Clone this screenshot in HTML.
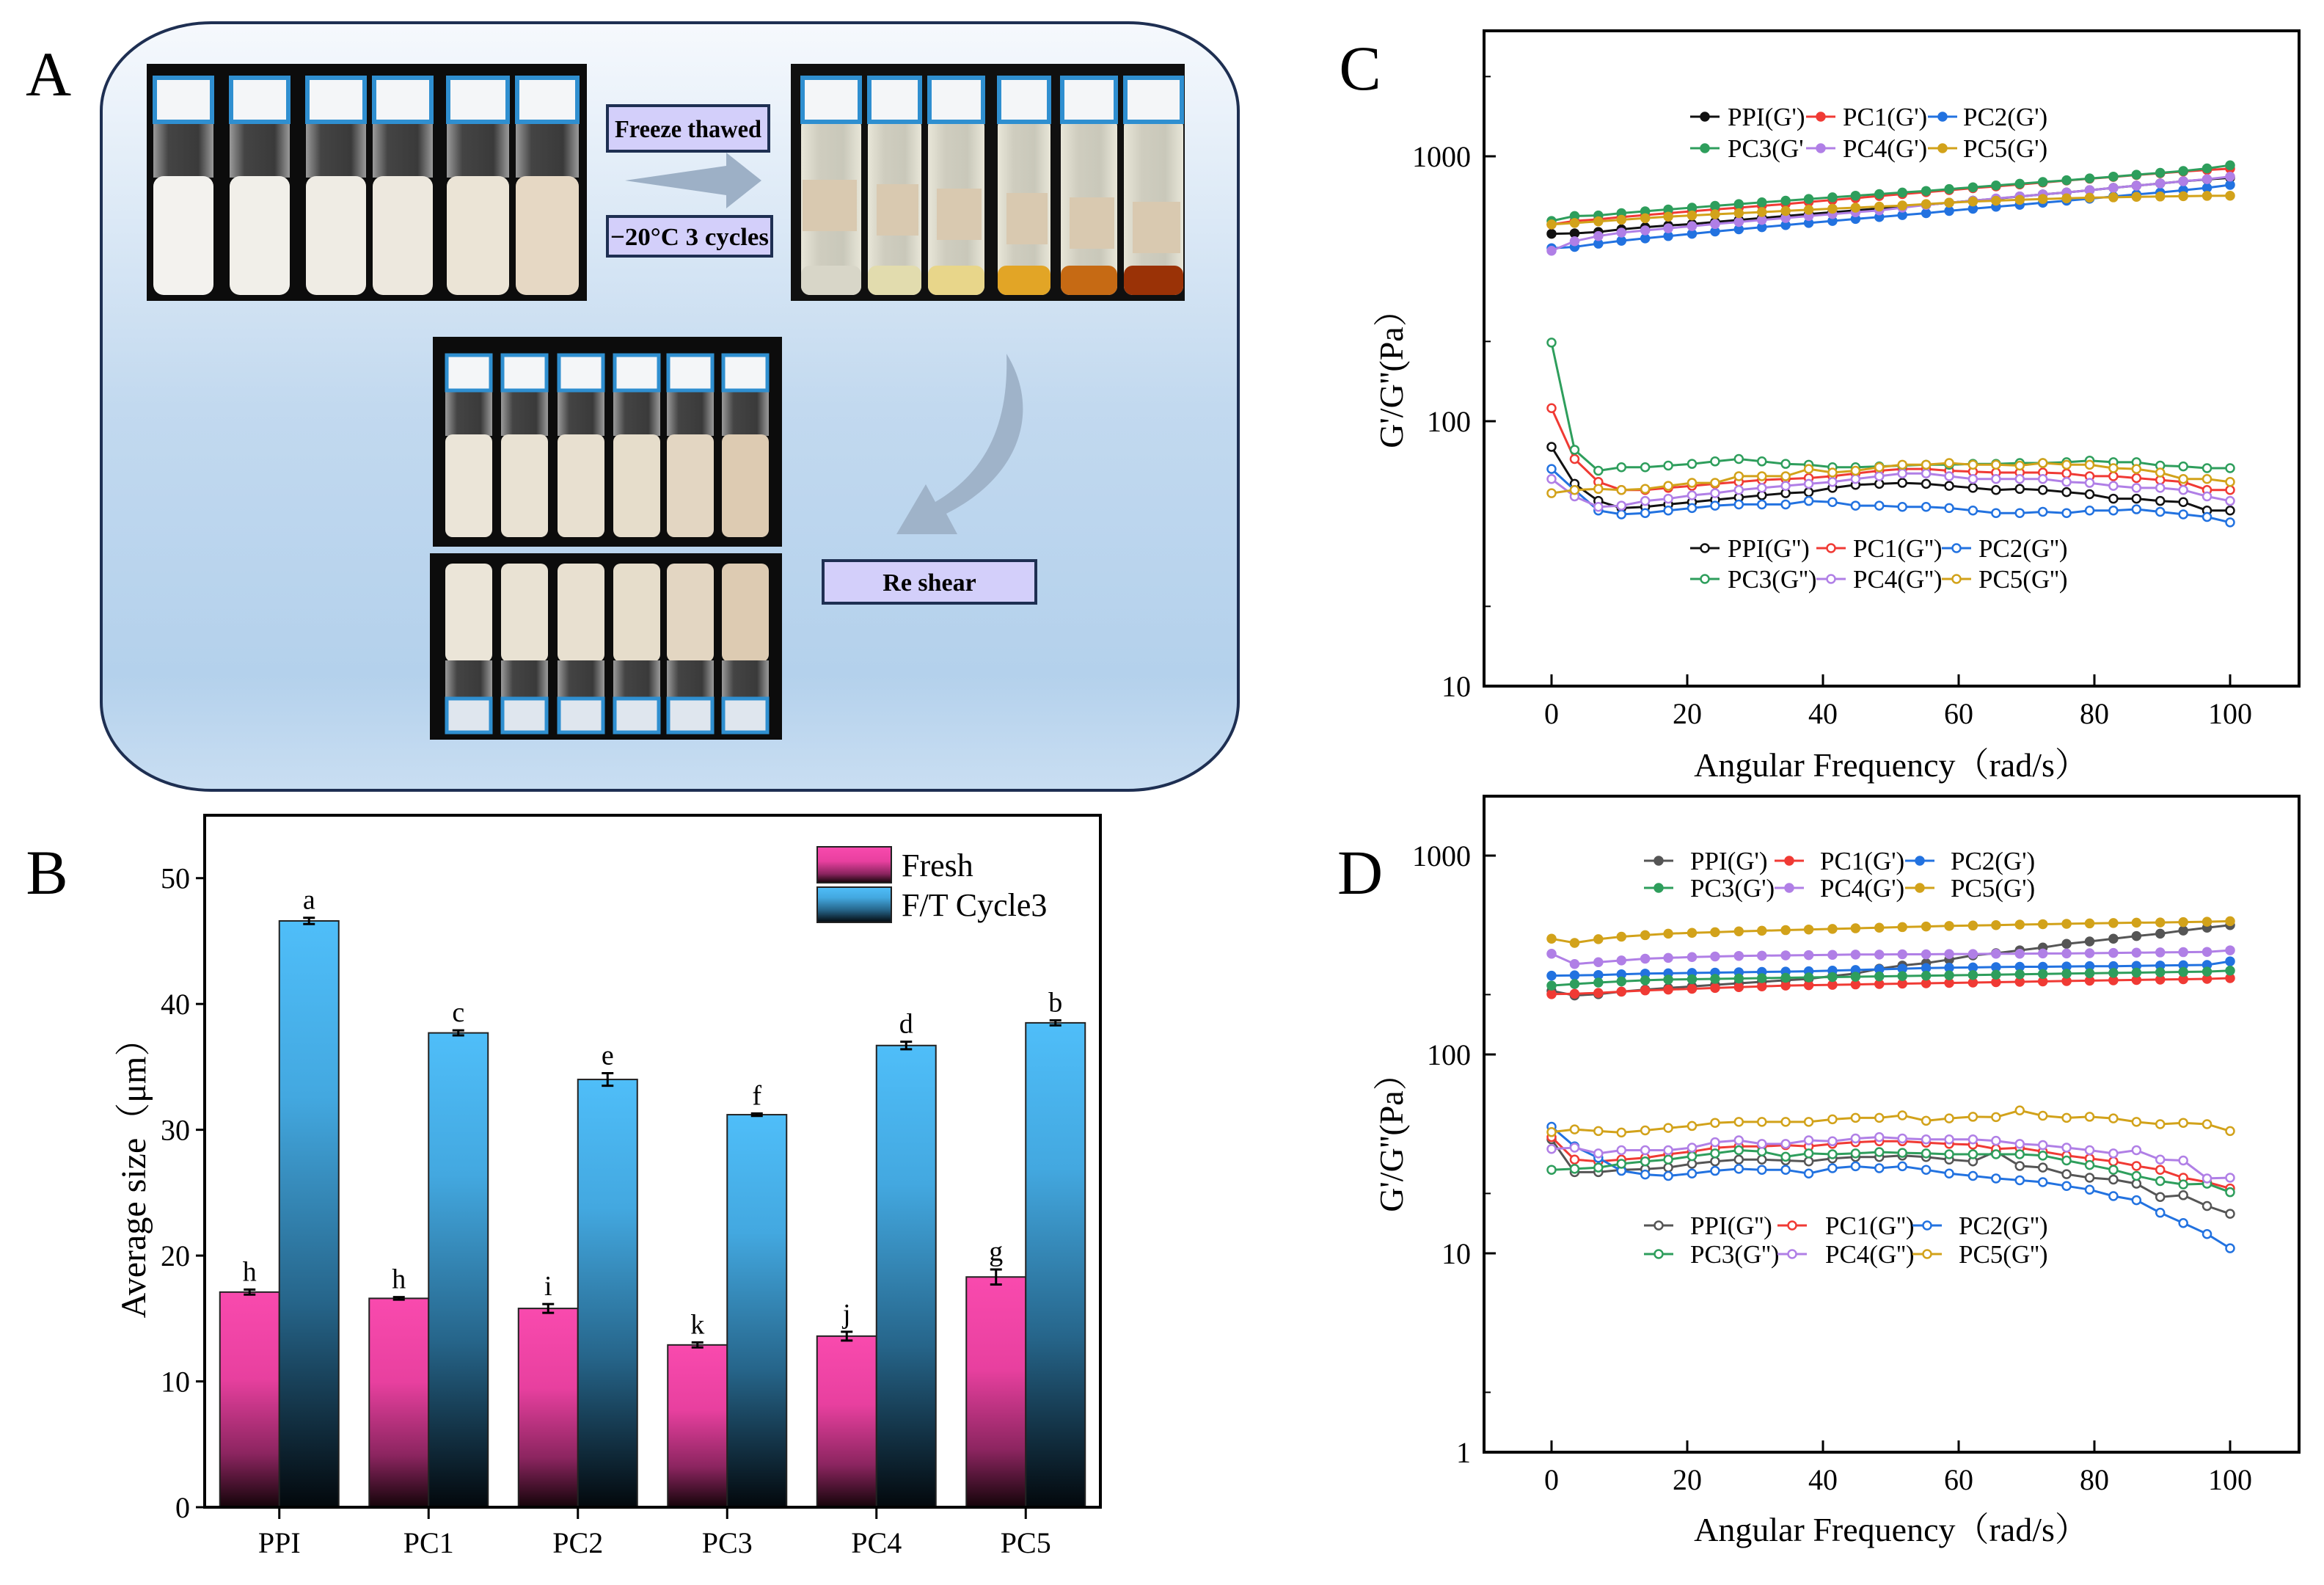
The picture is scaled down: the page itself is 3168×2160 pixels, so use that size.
<!DOCTYPE html>
<html><head><meta charset="utf-8">
<style>
html,body{margin:0;padding:0;background:#fff;}
svg{display:block;}
text{font-family:"Liberation Serif","Noto Serif CJK SC",serif;}
</style></head>
<body>
<svg id="fig" width="3168" height="2160" viewBox="0 0 3168 2160" xmlns="http://www.w3.org/2000/svg">
<defs>
<linearGradient id="panelGrad" x1="0" y1="0" x2="0" y2="1">
<stop offset="0" stop-color="#f6f9fd"/><stop offset="0.5" stop-color="#c2d9ef"/><stop offset="0.85" stop-color="#b4d1ec"/><stop offset="1" stop-color="#c9def2"/>
</linearGradient>
<linearGradient id="freshGrad" x1="0" y1="0" x2="0" y2="1">
<stop offset="0" stop-color="#f94aae"/><stop offset="0.4" stop-color="#e8409f"/><stop offset="0.75" stop-color="#8c2560"/><stop offset="1" stop-color="#140409"/>
</linearGradient>
<linearGradient id="ftGrad" x1="0" y1="0" x2="0" y2="1">
<stop offset="0" stop-color="#4fbef9"/><stop offset="0.3" stop-color="#43a8e0"/><stop offset="0.65" stop-color="#26658a"/><stop offset="1" stop-color="#03080c"/>
</linearGradient>
<linearGradient id="milk" x1="0" y1="0" x2="1" y2="0">
<stop offset="0" stop-color="#d9d5cc"/><stop offset="0.3" stop-color="#f4f1ea"/><stop offset="0.8" stop-color="#eeeae2"/><stop offset="1" stop-color="#c9c4ba"/>
</linearGradient>
<linearGradient id="glass" x1="0" y1="0" x2="1" y2="0">
<stop offset="0" stop-color="#9a9a9a"/><stop offset="0.25" stop-color="#444"/><stop offset="0.75" stop-color="#3a3a3a"/><stop offset="1" stop-color="#9a9a9a"/>
</linearGradient>
<linearGradient id="clearGlass" x1="0" y1="0" x2="1" y2="0">
<stop offset="0" stop-color="#e8e6d8"/><stop offset="0.3" stop-color="#cfcdbf"/><stop offset="0.7" stop-color="#c9c8ba"/><stop offset="1" stop-color="#e8e6d8"/>
</linearGradient>
</defs>

<!-- Panel A -->
<g>
<rect x="138" y="31" width="1550" height="1046" rx="150" ry="120" fill="url(#panelGrad)" stroke="#1e2f52" stroke-width="4"/>
<text x="66" y="130" font-size="86" text-anchor="middle">A</text>

<g id="photo1"><rect x="200" y="87" width="600" height="323" fill="#0c0c0c"/></g>
<g id="photo2"><rect x="1078" y="87" width="537" height="323" fill="#101010"/></g>
<g id="photo3"><rect x="590" y="459" width="476" height="286" fill="#0c0c0c"/></g>
<g id="photo4"><rect x="586" y="754" width="480" height="254" fill="#0c0c0c"/></g>

<polygon points="852,246 990,226 990,208 1038,246 990,284 990,266" fill="#9db0c6"/>
<path d="M1372,482 C1420,560 1390,650 1290,700 L1305,728 L1222,728 L1262,660 L1275,684 C1350,640 1375,570 1372,482 Z" fill="#9fb3c9"/>

<g>
<rect x="828" y="144" width="220" height="62" fill="#d3cffa" stroke="#1e2f52" stroke-width="4"/>
<text x="938" y="187" font-size="34" font-weight="bold" text-anchor="middle" textLength="200" lengthAdjust="spacingAndGlyphs">Freeze thawed</text>
</g>
<g>
<rect x="828" y="295" width="224" height="54" fill="#d3cffa" stroke="#1e2f52" stroke-width="4"/>
<text x="940" y="334" font-size="34" font-weight="bold" text-anchor="middle" textLength="216" lengthAdjust="spacingAndGlyphs">−20°C  3 cycles</text>
</g>
<g>
<rect x="1122" y="764" width="290" height="58" fill="#d3cffa" stroke="#1e2f52" stroke-width="4"/>
<text x="1267" y="805" font-size="34" font-weight="bold" text-anchor="middle">Re shear</text>
</g>
</g>

<!-- Panel B -->
<g id="chartB">
<text x="64" y="1218" font-size="86" text-anchor="middle">B</text>
<text transform="translate(198,1594) rotate(-90)" font-size="48" text-anchor="middle">Average size（μm）</text>
</g>

<!-- Panel C -->
<g id="chartC">
<text x="1854" y="122" font-size="86" text-anchor="middle">C</text>
<text transform="translate(1912,505) rotate(-90)" font-size="46" text-anchor="middle">G'/G''(Pa）</text>
<text x="2578" y="1058" font-size="46" text-anchor="middle">Angular Frequency（rad/s）</text>
</g>

<!-- Panel D -->
<g id="chartD">
<text x="1854" y="1218" font-size="86" text-anchor="middle">D</text>
<text transform="translate(1912,1546) rotate(-90)" font-size="46" text-anchor="middle">G'/G''(Pa）</text>
<text x="2578" y="2100" font-size="46" text-anchor="middle">Angular Frequency（rad/s）</text>
</g>
</svg>

<script>
// ---------- Panel B data ----------
const bCategories = ["PPI","PC1","PC2","PC3","PC4","PC5"];
const bFresh = [17.1,16.6,15.8,12.9,13.6,18.3];
const bFreshErr = [0.2,0.1,0.35,0.2,0.35,0.6];
const bFreshLetters = ["h","h","i","k","j","g"];
const bFT = [46.6,37.7,34.0,31.2,36.7,38.5];
const bFTErr = [0.25,0.2,0.5,0.1,0.3,0.2];
const bFTLetters = ["a","c","e","f","d","b"];
const bTicks = [0,10,20,30,40,50];

// ---------- Panels C/D data ----------
const freq = [0,3.4,6.9,10.3,13.8,17.2,20.7,24.1,27.6,31,34.5,37.9,41.4,44.8,48.3,51.7,55.2,58.6,62.1,65.5,69,72.4,75.9,79.3,82.8,86.2,89.7,93.1,96.6,100];
const seriesNames = ["PPI","PC1","PC2","PC3","PC4","PC5"];
const xTicks = [0,20,40,60,80,100];
const cTicks = [10,100,1000];
const dTicks = [1,10,100,1000];

const cG1PPI = [510,512,518,530,540,548,555,565,575,585,595,605,615,625,635,645,655,668,680,692,705,718,730,745,760,775,790,805,818,830];
const cG1PC1 = [553,570,578,590,600,610,620,630,640,650,660,672,684,695,708,720,732,745,758,770,783,796,810,823,836,850,863,876,888,898];
const cG1PC2 = [450,455,468,480,490,500,510,520,530,540,550,560,570,580,590,600,610,622,634,645,656,668,680,692,705,718,730,745,760,780];
const cG1PC3 = [570,595,598,610,620,630,640,650,660,670,680,690,700,710,720,730,740,752,764,776,788,800,812,825,838,852,866,880,900,925];
const cG1PC4 = [440,478,500,515,525,535,545,555,565,575,585,595,605,615,625,640,655,668,680,693,706,718,730,745,760,775,790,805,820,838];
const cG1PC5 = [553,560,568,576,584,592,598,604,610,616,622,628,634,640,646,652,660,668,675,680,685,690,694,698,700,703,705,707,709,710];

const cG2PPI = [80,58,50,47,47.5,48.5,49.5,50.5,51.5,52.5,53.5,54,56,57.5,58,58.5,58,57,56,55,55.5,55,54,53,51,51,50,49.5,46,46];
const cG2PC1 = [112,72,59,55,55,56,57,58,59,60,60.5,61,62,63.5,65,66,66,65,64.5,64,64,64,63.5,62,62,61,60,59,55,55];
const cG2PC2 = [66,55,46,44.5,45,46,47,48,48.5,48.5,48.5,50,49.5,48,48,47.5,47.5,47,46,45,45,45.5,45,46,46,46.5,45.5,44.5,43.5,41.5];
const cG2PC3 = [198,78,65,67,67,68,69,70.5,72,70.5,69,68.5,67,67,67.5,68,68.5,68.5,69,69,69.5,69.5,70,71,70,70,68,67.5,66.5,66.5];
const cG2PC4 = [60.5,52,47.5,48,50,51,52.5,53.5,55,56,57,58,59,60.5,62,63.5,63.5,62,60.5,60.5,60.5,60.5,59,58.5,57,56,56,55,52,50];
const cG2PC5 = [53.5,55,55.5,55,55.5,57,58.5,58.5,62,62,62,66,64,65,67,68.5,68.5,69.5,68.5,68.5,68,69.5,68.5,68.5,66.5,66,64,60.5,60.5,59];

const dG1PPI = [209,198,201,207,212,216,220,224,228,232,236,240,248,255,270,280,288,300,315,323,334,345,360,370,382,394,405,420,434,447];
const dG1PC1 = [201,202,204,207,210,212,214,216,218,220,222,223,224,225,226,227,228,229,230,231,232,233,234,235,236,237,238,239,240,242];
const dG1PC2 = [249,250,251,253,255,256,257,258,259,260,261,262,264,266,268,270,272,273,274,275,276,276,277,278,278,279,280,281,282,294];
const dG1PC3 = [222,226,230,233,236,238,239,240,241,242,243,244,245,246,247,248,249,250,251,252,253,254,255,256,257,258,259,260,261,264];
const dG1PC4 = [321,285,291,297,303,306,309,311,313,314,315,316,317,318,318,319,319,320,320,321,321,322,322,323,324,325,326,327,328,334];
const dG1PC5 = [382,364,380,391,398,405,409,412,416,419,422,425,428,431,434,437,440,443,445,447,450,452,454,456,458,460,461,463,465,468];

const dG2PPI = [37.4,25.6,25.6,26.3,26.5,27,28.2,29,29.6,29.6,29.3,29,30,30.5,30.5,31,30.5,29.6,29,32.5,27.5,27,25,24,23.5,22.4,19.2,19.6,17.3,15.8];
const dG2PC1 = [38.4,29.6,29,29.6,30.2,31.5,32.5,33.9,34.5,34.5,35,34.5,35.5,36.2,36.6,36.6,36,35.5,35.2,33.5,33.9,32.5,31,30,29,27.5,26.3,24,22.8,21.2];
const dG2PC2 = [43.3,34.5,30.2,26,24.9,24.5,25.2,26,26.6,26.3,26.3,25.2,26.8,27.4,26.8,27.4,26.3,25.2,24.5,23.8,23.3,22.8,21.8,20.9,19.4,18.5,16,14.2,12.5,10.6];
const dG2PC3 = [26.3,26.6,27,28.2,29,29.6,30.8,31.8,33,32.5,30.6,31.8,31.5,31.8,32.3,32,31.8,31.5,31.5,31.5,31.5,31,29.3,27.8,26.3,24.5,23.1,22.2,22.4,20.3];
const dG2PC4 = [33.5,34,31.8,33,33,33,34,36.2,37,35.5,35.5,37,36.6,37.8,38.4,37.8,37.4,37.4,37.4,36.8,35.5,35,34,33,31.8,33,29.6,29.3,23.8,24];
const dG2PC5 = [40.7,42,41.2,40.5,41.5,42.7,43.7,45.3,45.8,45.8,45.8,45.8,47.2,48,48,49.4,46.4,47.7,48.6,48.4,52.3,49.2,48,48.6,47.7,45.8,44.6,45.3,44.6,41.2];

const NS = "http://www.w3.org/2000/svg";
function mk(tag, attrs, parent){
  const e = document.createElementNS(NS, tag);
  for (const k in attrs) e.setAttribute(k, attrs[k]);
  parent.appendChild(e);
  return e;
}
function txt(str, attrs, parent){
  const e = mk("text", attrs, parent);
  e.textContent = str;
  return e;
}

// ---------- Panel A photos ----------
(function(){
  const p1 = document.getElementById("photo1");
  const v1 = [[209,291],[313,395],[417,499],[508,590],[609,694],[703,789]];
  const creams = ["#f3f2ee","#f1efe9","#efece4","#ede8de","#ebe4d6","#e6d8c4"];
  v1.forEach((v,i)=>{
    const w=v[1]-v[0];
    const g = mk("rect",{x:v[0],y:160,width:w,height:82,fill:"url(#glass)"},p1);
    
    
    const l = mk("rect",{x:v[0],y:240,width:w,height:162,rx:14,fill:creams[i]},p1);
    
    
    const lab = mk("rect",{x:v[0]+2,y:106,width:w-4,height:60,fill:"#f4f6f8",stroke:"#2f8fd0","stroke-width":6},p1);
    
    
  });
  const p2 = document.getElementById("photo2");
  const v2 = [[1092,1174],[1183,1256],[1265,1342],[1360,1432],[1446,1523],[1532,1613]];
  const bottoms = ["#d8d6c8","#e2dcae","#e8d68a","#e2a526","#c66a14","#9a3206"];
  v2.forEach((v,i)=>{
    const w=v[1]-v[0];
    const g = mk("rect",{x:v[0],y:160,width:w,height:242,rx:12,fill:"url(#clearGlass)"},p2);
    
    
    const s = mk("rect",{x:v[0]+(i===0?2:12),y:245+(i*6),width:w-(i===0?8:16),height:70,fill:"#d9c9b0"},p2);
    
    
    const b = mk("rect",{x:v[0],y:362,width:w,height:40,rx:12,fill:bottoms[i]},p2);
    
    
    const lab = mk("rect",{x:v[0]+2,y:106,width:w-4,height:60,fill:"#f4f6f8",stroke:"#2f8fd0","stroke-width":6},p2);
    
    
  });
  const p3 = document.getElementById("photo3");
  const p4 = document.getElementById("photo4");
  const c3 = [639,715,792,868,941,1016];
  const cr3 = ["#ebe5d8","#e9e2d3","#e8e0d0","#e6ddcb","#e3d6c2","#ddcbb2"];
  c3.forEach((c,i)=>{
    const w=64;
    const g = mk("rect",{x:c-w/2,y:530,width:w,height:64,fill:"url(#glass)"},p3);
    
    
    const l = mk("rect",{x:c-w/2,y:592,width:w,height:140,rx:10,fill:cr3[i]},p3);
    
    
    const lab = mk("rect",{x:c-w/2+2,y:484,width:w-4,height:48,fill:"#f4f6f8",stroke:"#2f8fd0","stroke-width":5},p3);
    
    
    const l4 = mk("rect",{x:c-w/2,y:768,width:w,height:134,rx:10,fill:cr3[i]},p4);
    
    
    const g4 = mk("rect",{x:c-w/2,y:900,width:w,height:56,fill:"url(#glass)"},p4);
    
    
    const lab4 = mk("rect",{x:c-w/2+2,y:952,width:w-4,height:46,fill:"#dfe6ee",stroke:"#2f8fd0","stroke-width":5},p4);
    
    
  });
})();

// ---------- Panel B ----------
(function(){
  const g = document.getElementById("chartB");
  const L=279,R=1500,T=1111,B=2054;
  const yB = v => B - (v/55)*(B-T);
  const xB = i => L + (i+0.5)*((R-L)/6);
  const bw = 81;
  bTicks.forEach(t=>{
    const tk = mk("line",{x1:L-12,x2:L,y1:yB(t),y2:yB(t),stroke:"#000","stroke-width":3},g);
    
    
    const lb = txt(String(t),{x:L-20,y:yB(t)+14,"font-size":40,"text-anchor":"end"},g);
    
    
  });
  bCategories.forEach((c,i)=>{
    const cx = xB(i);
    const f = mk("rect",{x:cx-bw,y:yB(bFresh[i]),width:bw,height:B-yB(bFresh[i]),fill:"url(#freshGrad)",stroke:"#222","stroke-width":2},g);
    
    
    const t = mk("rect",{x:cx,y:yB(bFT[i]),width:bw,height:B-yB(bFT[i]),fill:"url(#ftGrad)",stroke:"#222","stroke-width":2},g);
    
    
    [[cx-bw/2,bFresh[i],bFreshErr[i],bFreshLetters[i]],[cx+bw/2,bFT[i],bFTErr[i],bFTLetters[i]]].forEach(e=>{
      const eb = mk("path",{d:`M${e[0]-8},${yB(e[1]+e[2])}H${e[0]+8}M${e[0]},${yB(e[1]+e[2])}V${yB(e[1]-e[2])}M${e[0]-8},${yB(e[1]-e[2])}H${e[0]+8}`,stroke:"#000","stroke-width":3,fill:"none"},g);
      
      
      const lt = txt(e[3],{x:e[0],y:yB(e[1]+e[2])-12,"font-size":38,"text-anchor":"middle"},g);
      
      
    });
    const xt = mk("line",{x1:cx,x2:cx,y1:B,y2:B+16,stroke:"#000","stroke-width":3},g);
    
    
    const xl = txt(c,{x:cx,y:2116,"font-size":40,"text-anchor":"middle"},g);
    
    
  });
  const fr = mk("rect",{x:L,y:T,width:R-L,height:B-T,fill:"none",stroke:"#000","stroke-width":4},g);
  
  
  const lg1 = mk("rect",{x:1114,y:1154,width:101,height:49,fill:"url(#freshGrad)",stroke:"#222","stroke-width":2},g);
  
  
  const lt1 = txt("Fresh",{x:1229,y:1194,"font-size":44},g);
  
  
  const lg2 = mk("rect",{x:1114,y:1209,width:101,height:48,fill:"url(#ftGrad)",stroke:"#222","stroke-width":2},g);
  
  
  const lt2 = txt("F/T Cycle3",{x:1229,y:1248,"font-size":44},g);
  
  
})();

// ---------- Panels C/D ----------
const colorsC = ["#111111","#f03a34","#2272e0","#2e9e5c","#b07fe6","#d2a21a"];
const colorsD = ["#555555","#f03a34","#2272e0","#2e9e5c","#b07fe6","#d2a21a"];

function logChart(gid, cfg){
  const g = document.getElementById(gid);
  const xS = x => cfg.x0 + x*cfg.xk;
  const yS = v => cfg.yBase - (Math.log10(v) - cfg.logBase)*cfg.dec;
  cfg.ticks.forEach(t=>{
    const tk = mk("line",{x1:cfg.L,x2:cfg.L+16,y1:yS(t),y2:yS(t),stroke:"#000","stroke-width":3},g);
    
    
    const lb = txt(String(t),{x:cfg.L-18,y:yS(t)+14,"font-size":40,"text-anchor":"end"},g);
    
    
  });
  cfg.minor.forEach(t=>{
    const tk = mk("line",{x1:cfg.L,x2:cfg.L+9,y1:yS(t),y2:yS(t),stroke:"#000","stroke-width":2},g);
    
    
  });
  xTicks.forEach(t=>{
    const tk = mk("line",{x1:xS(t),x2:xS(t),y1:cfg.B,y2:cfg.B-16,stroke:"#000","stroke-width":3},g);
    
    
    const lb = txt(String(t),{x:xS(t),y:cfg.xLabY,"font-size":40,"text-anchor":"middle"},g);
    
    
  });
  const fr = mk("rect",{x:cfg.L,y:cfg.T,width:cfg.R-cfg.L,height:cfg.B-cfg.T,fill:"none",stroke:"#000","stroke-width":4},g);
  
  
  const drawSeries = (vals, col, filled, name) => {
    const pts = vals.map((v,i)=>xS(freq[i]).toFixed(1)+","+yS(v).toFixed(1)).join(" ");
    const pl = mk("polyline",{points:pts,fill:"none",stroke:col,"stroke-width":3},g);
    
    
    vals.forEach((v,i)=>{
      const c = mk("circle",{cx:xS(freq[i]),cy:yS(v),r:5.5,fill:filled?col:"#fff",stroke:col,"stroke-width":2.5},g);
      
      
    });
  };
  cfg.g2.forEach((s,k)=>drawSeries(s, cfg.colors[k], false, seriesNames[k].toLowerCase()+"-g2"));
  cfg.g1.forEach((s,k)=>drawSeries(s, cfg.colors[k], true, seriesNames[k].toLowerCase()+"-g1"));
  const drawLegend = (leg, filled, suffix) => {
    for (let k=0;k<6;k++){
      const row = Math.floor(k/3), col = k%3;
      const y = leg.rows[row];
      const lx = leg.lines[row][col];
      const ln = mk("line",{x1:lx,x2:lx+40,y1:y,y2:y,stroke:cfg.colors[k],"stroke-width":3},g);
      
      
      const m = mk("circle",{cx:lx+20,cy:y,r:5.5,fill:filled?cfg.colors[k]:"#fff",stroke:cfg.colors[k],"stroke-width":2.5},g);
      
      
      let label = seriesNames[k]+suffix;
      if (leg.truncate && k===3) label = "PC3(G'";
      const t = txt(label,{x:leg.texts[row][col],y:y+12,"font-size":35},g);
      
      
    }
  };
  drawLegend(cfg.leg1, true, "(G')");
  drawLegend(cfg.leg2, false, "(G'')");
}

logChart("chartC",{L:2023,R:3134,T:42,B:935,x0:2115,xk:9.25,yBase:935,logBase:1,dec:361,
  ticks:cTicks, minor:[20,200,2000], xLabY:986, colors:colorsC,
  g1:[cG1PPI,cG1PC1,cG1PC2,cG1PC3,cG1PC4,cG1PC5], g2:[cG2PPI,cG2PC1,cG2PC2,cG2PC3,cG2PC4,cG2PC5],
  leg1:{rows:[159,202], lines:[[2304,2462,2628],[2304,2462,2628]], texts:[[2355,2512,2676],[2355,2512,2676]], truncate:true},
  leg2:{rows:[747,789], lines:[[2304,2476,2647],[2304,2476,2647]], texts:[[2355,2526,2697],[2355,2526,2697]]}
});
logChart("chartD",{L:2023,R:3134,T:1085,B:1979,x0:2115,xk:9.25,yBase:1979,logBase:0,dec:271,
  ticks:dTicks, minor:[2,20,200,2000], xLabY:2030, colors:colorsD,
  g1:[dG1PPI,dG1PC1,dG1PC2,dG1PC3,dG1PC4,dG1PC5], g2:[dG2PPI,dG2PC1,dG2PC2,dG2PC3,dG2PC4,dG2PC5],
  leg1:{rows:[1173,1210], lines:[[2241,2419,2597],[2241,2419,2597]], texts:[[2304,2481,2659],[2304,2481,2659]]},
  leg2:{rows:[1670,1709], lines:[[2241,2423,2607],[2241,2423,2607]], texts:[[2304,2488,2670],[2304,2488,2670]]}
});
</script>
</body></html>
